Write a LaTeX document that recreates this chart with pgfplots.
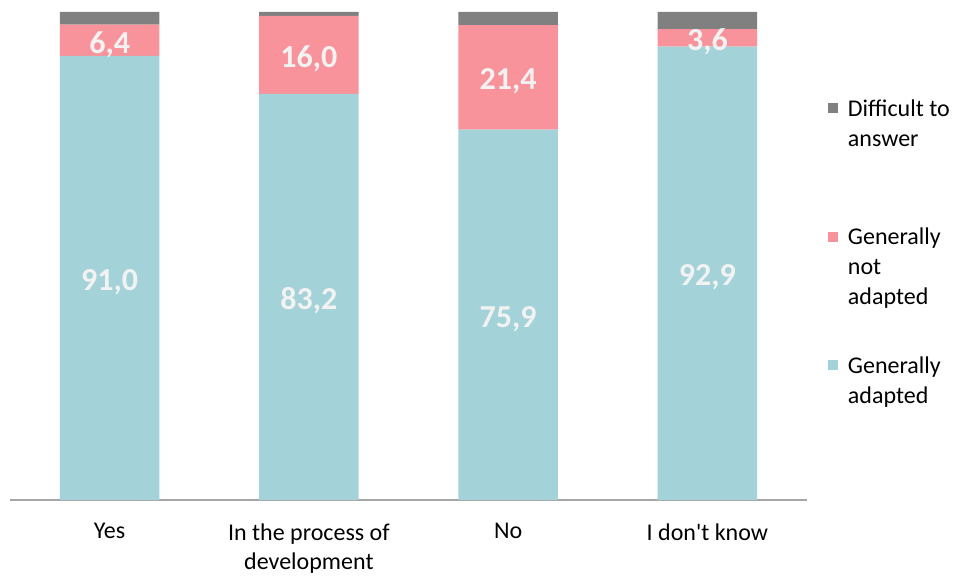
\documentclass[border=0pt]{standalone}
\usepackage{pgfplots}
\pgfplotsset{compat=1.18}
\usepackage{pgfplotstable}
\usepackage{fontspec}
\setmainfont{Carlito}[Ligatures=TeXOff]
\definecolor{cAd}{HTML}{A3D3D8}
\definecolor{cNot}{HTML}{F8939B}
\definecolor{cDif}{HTML}{808080}
\definecolor{cTxt}{HTML}{F2F2F2}
\definecolor{cAxis}{HTML}{A6A6A6}

\pgfplotstableread{
x adapted notadapted difficult
0 91.0 6.4 2.6
1 83.2 16.0 0.8
2 75.9 21.4 2.7
3 92.9 3.6 3.5
}\datatable

\pgfplotstableread{
x ymid label
0 45.5 91,0
0 94.2 6,4
1 41.6 83,2
1 91.2 16,0
2 37.95 75,9
2 86.6 21,4
3 46.45 92,9
3 94.7 3,6
}\labeltable

\newcommand{\legcell}[1]{\begin{tabular}[t]{@{\hspace{8pt}}l@{}}#1\end{tabular}}

\begin{document}
\begin{tikzpicture}
\useasboundingbox (-10pt,-75pt) rectangle (947pt,500pt);
\pgfplotsset{base/.style={scale only axis, width=797pt, height=488pt,
  xmin=-0.5, xmax=3.5, ymin=0, ymax=100, at={(0pt,0pt)}, anchor=south west}}
\begin{axis}[base,
  ybar stacked, bar width=0.5,
  axis y line=none, axis x line*=bottom,
  axis line style={-, color=cAxis, line width=1.5pt},
  xtick={0,1,2,3},
  xticklabels={Yes, {In the process of\\development}, No, {I don't know}},
  xticklabel style={align=center, font=\fontsize{24}{29}\selectfont, yshift=-20pt},
  major tick length=0pt,
  reverse legend,
  legend style={at={(rel axis cs:1.026,0.834)}, anchor=north west, draw=none, fill=none,
    font=\fontsize{24}{30}\selectfont, row sep=102pt, inner sep=0pt,
    cells={anchor=base west}},
  legend image code/.code={\fill[#1, draw=none] (0pt,3pt) rectangle (10pt,13pt);},
]
\addplot[fill=cAd, draw=none] table[x=x, y=adapted] {\datatable};
\addlegendentry{\legcell{Generally\\adapted}}
\addplot[fill=cNot, draw=none] table[x=x, y=notadapted] {\datatable};
\addlegendentry{\legcell{Generally\\not\\adapted}}
\addplot[fill=cDif, draw=none] table[x=x, y=difficult] {\datatable};
\addlegendentry{\legcell{Difficult to\\answer}}
\end{axis}
\begin{axis}[base, hide axis]
\addplot[only marks, mark=*, mark size=0pt, mark options={draw=none, fill=none},
  point meta=explicit symbolic, nodes near coords,
  every node near coord/.append style={anchor=center, text=cTxt, yshift=-4pt,
    font=\bfseries\fontsize{32}{32}\selectfont}]
  table[x=x, y=ymid, meta=label] {\labeltable};
\end{axis}
\end{tikzpicture}
\end{document}
